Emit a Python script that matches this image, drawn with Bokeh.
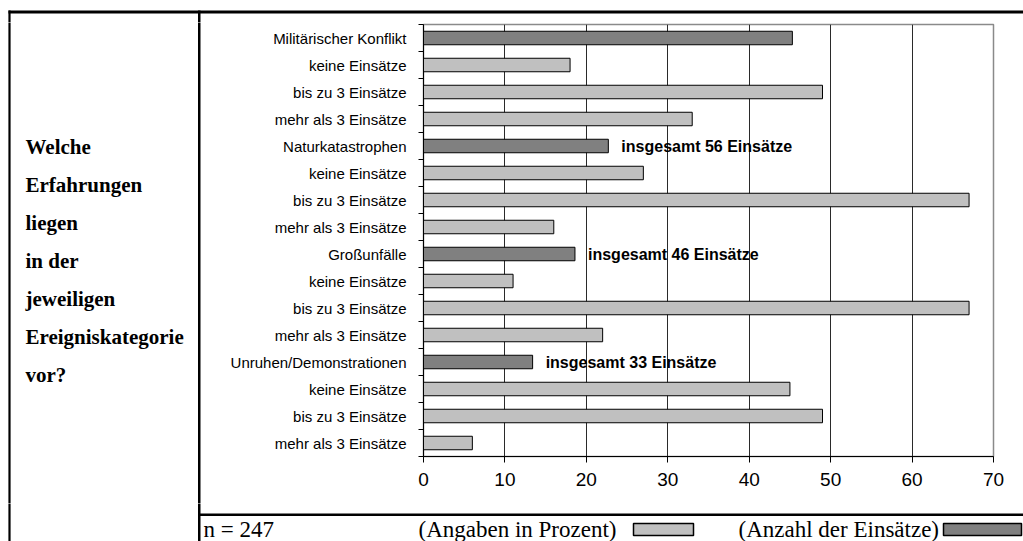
from bokeh.plotting import figure
from bokeh.layouts import row, column
from bokeh.models import Range1d, FixedTicker, CustomJSTickFormatter, ColumnDataSource
from bokeh.core.properties import value
from bokeh.embed import file_html
from bokeh.resources import INLINE

# ---------------- data ----------------
categories = [
    "Militärischer Konflikt", "keine Einsätze", "bis zu 3 Einsätze", "mehr als 3 Einsätze",
    "Naturkatastrophen", "keine Einsätze", "bis zu 3 Einsätze", "mehr als 3 Einsätze",
    "Großunfälle", "keine Einsätze", "bis zu 3 Einsätze", "mehr als 3 Einsätze",
    "Unruhen/Demonstrationen", "keine Einsätze", "bis zu 3 Einsätze", "mehr als 3 Einsätze",
]
values = [45.3, 18, 49, 33,
          22.7, 27, 67, 16,
          18.6, 11, 67, 22,
          13.4, 45, 49, 6]
kinds = ["count", "pct", "pct", "pct",
         "count", "pct", "pct", "pct",
         "count", "pct", "pct", "pct",
         "count", "pct", "pct", "pct"]
annot_rows = [4, 8, 12]
annot_counts = [56, 46, 33]
x_ticks = [0, 10, 20, 30, 40, 50, 60, 70]
question_lines = ["Welche", "Erfahrungen", "liegen", "in der", "jeweiligen",
                  "Ereigniskategorie", "vor?"]
n_total = 247
legend_labels = ["(Angaben in Prozent)", "(Anzahl der Einsätze)"]

LIGHT = "#c0c0c0"
DARK = "#808080"
SANS = "Liberation Sans"
SERIF = "Liberation Serif"

W, H = 1023, 541
LEFT_W = 201          # left text cell (incl. divider line)
RIGHT_W = W - LEFT_W
TOP_H = 22            # strip holding the table's top line
FOOT_H = 38           # footer row
MID_H = H - TOP_H - FOOT_H
LX, DX = 9, 198.75    # table's left border and divider
EXT = 6               # overdraw so that vertical rules meet across panels


def blank(width, height, xr, yr):
    f = figure(width=width, height=height, output_backend="svg", toolbar_location=None,
               x_range=Range1d(*xr), y_range=Range1d(*yr),
               x_axis_location=None, y_axis_location=None, min_border=0)
    f.frame_align = False
    f.grid.grid_line_color = None
    f.outline_line_color = None
    f.background_fill_color = "white"
    f.border_fill_color = "white"
    return f


# ---------------- top strip (full width) ----------------
top = blank(W, TOP_H, (0, W), (TOP_H, 0))
top.segment(x0=[8, LX, DX], y0=[11.5, 10, 10], x1=[W + EXT, LX, DX],
            y1=[11.5, TOP_H + EXT, TOP_H + EXT],
            line_color="black", line_width=[3, 2.2, 2.5])

# ---------------- left cell ----------------
left = blank(LEFT_W, MID_H, (0, LEFT_W), (TOP_H + MID_H, TOP_H))
left.segment(x0=[LX, DX], y0=[TOP_H - EXT, TOP_H - EXT], x1=[LX, DX],
             y1=[TOP_H + MID_H + EXT, TOP_H + MID_H + EXT],
             line_color="black", line_width=[2.2, 2.5])
left.text(x=[25] * len(question_lines),
          y=[146.5 + 38 * i for i in range(len(question_lines))],
          text=question_lines, text_font=value(SERIF), text_font_style="bold",
          text_font_size="21px", text_baseline="middle", text_align="left",
          text_color="black")

# ---------------- chart ----------------
p = figure(width=RIGHT_W, height=MID_H, output_backend="svg", toolbar_location=None,
           x_range=Range1d(0, 70), y_range=Range1d(16, 0),
           min_border_left=423 - LEFT_W, min_border_right=30, min_border_top=24 - TOP_H,
           min_border_bottom=(TOP_H + MID_H) - 456)
p.frame_align = False
p.background_fill_color = "white"
p.border_fill_color = "white"
p.outline_line_color = "#8a8a8a"
p.outline_line_width = 1.5

centers = [i + 0.5 for i in range(len(categories))]
src = ColumnDataSource(dict(
    y=centers, right=values, cat=categories,
    color=[DARK if k == "count" else LIGHT for k in kinds]))
p.hbar(y="y", left=0, right="right", height=0.5, fill_color="color",
       line_color="black", line_width=1, source=src)

ann_x = [values[r] + 1.6 for r in annot_rows]
ann_y = [centers[r] for r in annot_rows]
ann_t = ["insgesamt %d Einsätze" % c for c in annot_counts]
p.text(x=ann_x, y=ann_y, text=ann_t, text_font=value(SANS), text_font_style="bold",
       text_font_size="16px", text_baseline="middle", text_align="left", text_color="black")

p.ygrid.grid_line_color = None
p.xgrid.ticker = FixedTicker(ticks=x_ticks[1:-1])
p.xgrid.grid_line_color = "#2a2a2a"
p.xgrid.grid_line_width = 1

p.xaxis.ticker = FixedTicker(ticks=x_ticks)
p.xaxis.major_tick_out = 6
p.xaxis.major_tick_in = 0
p.xaxis.minor_tick_line_color = None
p.xaxis.axis_line_color = "black"
p.xaxis.major_tick_line_color = "black"
p.xaxis.major_label_text_font = SANS
p.xaxis.major_label_text_font_size = "19px"
p.xaxis.major_label_text_color = "black"
p.xaxis.major_label_standoff = 10

p.yaxis.ticker = FixedTicker(ticks=centers, minor_ticks=list(range(len(categories) + 1)))
p.yaxis.formatter = CustomJSTickFormatter(args=dict(labels=categories),
                                          code="return labels[Math.floor(tick)];")
p.yaxis.major_tick_out = 0
p.yaxis.major_tick_in = 0
p.yaxis.minor_tick_out = 5
p.yaxis.minor_tick_in = 0
p.yaxis.minor_tick_line_color = "black"
p.yaxis.axis_line_color = "black"
p.yaxis.major_label_text_font = SANS
p.yaxis.major_label_text_font_size = "15px"
p.yaxis.major_label_text_color = "black"
p.yaxis.major_label_standoff = 12

# ---------------- footer (full width) ----------------
y0 = H - FOOT_H
foot = blank(W, FOOT_H, (0, W), (H, y0))
foot.segment(x0=[DX - 1.25, LX, DX], y0=[514.25, y0 - EXT, y0 - EXT],
             x1=[W + EXT, LX, DX], y1=[514.25, H + EXT, H + EXT],
             line_color="black", line_width=[2.5, 2.2, 2.5])
foot.text(x=[203, 418, 738], y=[529, 529, 529],
          text=["n = %d" % n_total, legend_labels[0], legend_labels[1]],
          text_font=value(SERIF), text_font_size="23px", text_baseline="middle",
          text_align="left", text_color="black")
foot.quad(left=[633, 943], right=[693, 1021], top=[523, 523], bottom=[535, 535],
          fill_color=[LIGHT, DARK], line_color="black", line_width=1.5)

layout = column(top, row(left, p, spacing=0), foot, spacing=0)
open("out.html", "w").write(file_html(layout, INLINE))
